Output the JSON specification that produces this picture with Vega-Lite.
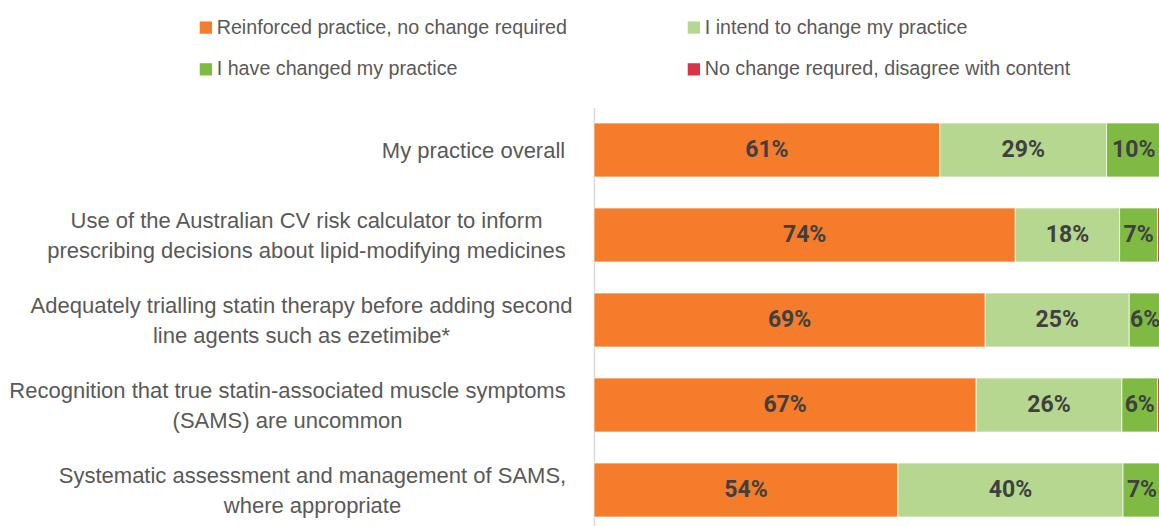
{
  "$schema": "https://vega.github.io/schema/vega-lite/v6.json",
  "width": 567,
  "height": 425,
  "autosize": {"type": "none"},
  "padding": {"left": 594, "top": 107.5, "right": 0, "bottom": 0},
  "background": "white",
  "config": {"view": {"stroke": null}},
  "data": {
    "values": [
      {"item": "My practice overall", "resp": "Reinforced practice, no change required", "seg": 1, "v": 0.610},
      {"item": "My practice overall", "resp": "I intend to change my practice", "seg": 2, "v": 0.294},
      {"item": "My practice overall", "resp": "I have changed my practice", "seg": 3, "v": 0.096},
      {"item": "Use of the Australian CV risk calculator to inform|prescribing decisions about lipid-modifying medicines", "resp": "Reinforced practice, no change required", "seg": 1, "v": 0.743},
      {"item": "Use of the Australian CV risk calculator to inform|prescribing decisions about lipid-modifying medicines", "resp": "I intend to change my practice", "seg": 2, "v": 0.184},
      {"item": "Use of the Australian CV risk calculator to inform|prescribing decisions about lipid-modifying medicines", "resp": "I have changed my practice", "seg": 3, "v": 0.067},
      {"item": "Use of the Australian CV risk calculator to inform|prescribing decisions about lipid-modifying medicines", "resp": "No change requred, disagree with content", "seg": 4, "v": 0.006},
      {"item": "Adequately trialling statin therapy before adding second|line agents such as ezetimibe*", "resp": "Reinforced practice, no change required", "seg": 1, "v": 0.690},
      {"item": "Adequately trialling statin therapy before adding second|line agents such as ezetimibe*", "resp": "I intend to change my practice", "seg": 2, "v": 0.254},
      {"item": "Adequately trialling statin therapy before adding second|line agents such as ezetimibe*", "resp": "I have changed my practice", "seg": 3, "v": 0.056},
      {"item": "Recognition that true statin-associated muscle symptoms|(SAMS) are uncommon", "resp": "Reinforced practice, no change required", "seg": 1, "v": 0.674},
      {"item": "Recognition that true statin-associated muscle symptoms|(SAMS) are uncommon", "resp": "I intend to change my practice", "seg": 2, "v": 0.257},
      {"item": "Recognition that true statin-associated muscle symptoms|(SAMS) are uncommon", "resp": "I have changed my practice", "seg": 3, "v": 0.063},
      {"item": "Recognition that true statin-associated muscle symptoms|(SAMS) are uncommon", "resp": "No change requred, disagree with content", "seg": 4, "v": 0.006},
      {"item": "Systematic assessment and management of SAMS,|where appropriate", "resp": "Reinforced practice, no change required", "seg": 1, "v": 0.536},
      {"item": "Systematic assessment and management of SAMS,|where appropriate", "resp": "I intend to change my practice", "seg": 2, "v": 0.397},
      {"item": "Systematic assessment and management of SAMS,|where appropriate", "resp": "I have changed my practice", "seg": 3, "v": 0.067}
    ]
  },
  "encoding": {
    "y": {
      "field": "item",
      "type": "nominal",
      "sort": null,
      "title": null,
      "scale": {"paddingInner": 0.365, "paddingOuter": 0.1825},
      "axis": {
        "labelExpr": "split(datum.label, '|')",
        "labelFont": "Liberation Sans",
        "labelFontSize": 22,
        "labelColor": "#595959",
        "labelLineHeight": 30,
        "labelLimit": 600,
        "labelAlign": "center",
        "labelBaseline": "middle",
        "labelOffset": {"expr": "indexof(datum.label, '|') >= 0 ? -14 : 1"},
        "labelPadding": {"expr": "datum.index == 0 ? 121 : datum.index < 0.3 ? 288 : datum.index < 0.6 ? 293 : datum.index < 0.9 ? 307 : 282"},
        "ticks": false,
        "domainColor": "#D9D9D9",
        "domainWidth": 1.5,
        "grid": false
      }
    },
    "x": {
      "field": "v",
      "type": "quantitative",
      "stack": "zero",
      "scale": {"domain": [0, 1], "nice": false},
      "axis": null
    },
    "order": {"field": "seg", "type": "quantitative"}
  },
  "layer": [
    {
      "mark": {"type": "bar", "stroke": "white", "strokeWidth": 0.7},
      "encoding": {
        "color": {
          "field": "resp",
          "type": "nominal",
          "scale": {
            "domain": ["Reinforced practice, no change required", "I have changed my practice", "I intend to change my practice", "No change requred, disagree with content"],
            "range": ["#F47C2B", "#7FBB42", "#B5D78F", "#D7344A"]
          },
          "legend": {
            "title": null,
            "orient": "none",
            "legendX": -398,
            "legendY": -90,
            "columns": 2,
            "columnPadding": 117,
            "rowPadding": 21,
            "symbolType": "square",
            "symbolSize": 150,
            "symbolStrokeWidth": 0,
            "symbolOpacity": 1,
            "labelFont": "Liberation Sans",
            "labelFontSize": 19.7,
            "labelColor": "#595959",
            "labelOffset": 1,
            "labelLimit": 500
          }
        }
      }
    },
    {
      "transform": [{"filter": "datum.v >= 0.03"}],
      "mark": {"type": "text", "font": "Roboto", "fontWeight": "bold", "fontSize": 23, "color": "#404040", "baseline": "middle", "align": "center"},
      "encoding": {
        "x": {"field": "v", "type": "quantitative", "stack": "zero", "bandPosition": 0.5},
        "text": {"field": "v", "type": "quantitative", "format": ".0%"}
      }
    }
  ]
}
